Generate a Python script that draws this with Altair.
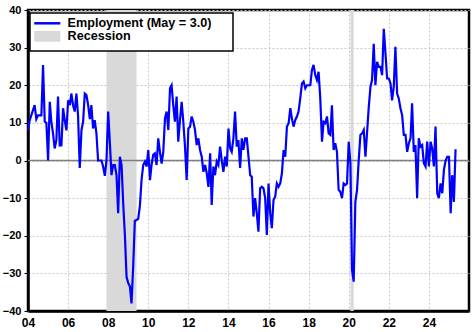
import altair as alt
import pandas as pd

# ---- data (monthly, Jan 2004 .. May 2025) ----
employment = [
    # 2004
    8, 10.7, 12, 13.4, 14.7, 11, 12, 12, 12, 25.4, 10.3, 10,
    # 2005
    0, 15.6, 10.3, 7.2, 3.2, 5.4, 17, 4, 4, 13.9, 10.7, 8,
    # 2006
    16, 14.7, 17.8, 14.7, 13, 17.8, 12, -2, 8, 10.3, 17.8, 17.4,
    # 2007
    14.7, 11, 14.7, 8.5, 10.7, 7.2, 0, 0, 0, -1.6, -4.1, 0,
    # 2008
    13, 4.6, -3.9, -1.2, -1.2, -3.9, -14, 1, -1.2, -11.5, -20, -31,
    # 2009
    -32.6, -33.5, -38, -28, -16, -15.8, -15.5, -12, -5, -1.2, -0.3, -1.6,
    # 2010
    2.8, -5.2, -1.2, 1.5, 1.9, -1.2, 5.9, 2.3, -0.8, 2.3, 11.2, 13,
    # 2011
    8.1, 19.2, 20, 14.7, 10.3, 17, 5, 10.7, 15.6, 10.3, 3.7, -5.2,
    # 2012
    8.5, 9, 11.7, 10.3, 8.1, 4.1, 5.9, 2.8, 1, -3, -1.2, -3.4,
    # 2013
    -7, 1.9, -11.8, -1.6, -3.9, -0.3, -1.2, 3.7, 0, -3, 1, -1.6,
    # 2014
    8.5, 3.2, 2.3, 5.9, 13, 3.7, 5.4, -2, 5.9, 2.8, 5.9, 5.9,
    # 2015
    1, -3.9, -4.3, -14.9, -10, -14, -18.9, -7.4, -7, -7.4, -10, -19.8,
    # 2016
    -6.1, -14, -18, -10.5, -9.6, -6.1, -7, -6.1, -3.4, 2.8, 1, 9,
    # 2017
    9.9, 13.9, 11.2, 9, 10.7, 11.7, 13, 16.5, 20.5, 21, 19.2, 20,
    # 2018
    20, 20, 24, 25.4, 22.7, 21.4, 23.6, 16.5, 5, 10.3, 9.9, 11.7,
    # 2019
    7.2, 6.8, 14.7, 2.8, 4.6, 2.3, -7.8, -8.3, -10, -6.1, -6.5, -6.1,
    # 2020
    5, -0.8, -29, -32.2, -11, -7.8, 0, 6.8, 7.2, 8.1, 1, 7.6,
    # 2021
    14.3, 19.6, 21.4, 31, 20, 26.2, 24.9, 24.9, 22.7, 35, 28.5, 21.8,
    # 2022
    21.8, 20.5, 16, 19.6, 30.2, 17.8, 16.5, 13.9, 12, 6.8, 6.8, 2.3,
    # 2023
    4.6, 5.9, 15.2, 2.3, 4.1, -10, 5.9, 3.7, 4.1, -0.7, -1.6, 5,
    # 2024
    -1.6, 5, 3.2, -1.6, 9, -8.7, -10, -6.1, -8.7, -2.5, 0, 1,
    # 2025
    1, -14, -3.9, -11, 3.0,
]
start_month = "2004-01-01"
series_label = "Employment (May = 3.0)"
recession_label = "Recession"
recession_start = ["2007-12-01", "2020-02-01"]
recession_end = ["2009-06-01", "2020-04-01"]
year_ticks = list(range(2004, 2025, 2))
y_ticks = [-40, -30, -20, -10, 0, 10, 20, 30, 40]

FONT = "Liberation Sans"
PAD = chr(160) * 5 + chr(0x200B)   # invisible filler widening the legend box

dates = pd.date_range(start_month, periods=len(employment), freq="MS")
df = pd.DataFrame({"date": dates.strftime("%Y-%m-%d"), "value": employment})
rec = pd.DataFrame({"start": recession_start, "end": recession_end,
                    "name": [recession_label] * len(recession_start)})
zero = pd.DataFrame({"zero": [0]})

x_scale = alt.Scale(domain=[alt.DateTime(year=2004, month=1, date=1),
                            alt.DateTime(year=2026, month=1, date=1)])
y_scale = alt.Scale(domain=[-40, 40], nice=False)

x_axis = alt.Axis(
    values=[alt.DateTime(year=y, month=1, date=1) for y in year_ticks],
    format="%y", labelFontSize=12, tickSize=0, labelPadding=6,
    labelFlush=False, grid=True, title=None,
)
y_axis = alt.Axis(values=y_ticks, format="d", labelFontSize=11, tickSize=4,
                  labelPadding=3, grid=True, title=None)

color_scale = alt.Scale(domain=[series_label, recession_label],
                        range=["#0000ff", "#d9d9d9"])

legend = alt.Legend(
    title=None, orient="none", legendX=2, legendY=3, direction="vertical",
    fillColor="white", strokeColor="black", padding=4,
    labelFont=FONT, labelFontSize=12.6, labelFontWeight="bold", labelColor="black",
    labelExpr="datum.label == 'Recession' ? datum.label : datum.label + '" + PAD + "'",
    labelLimit=260,
    labelOffset=14, rowPadding=-6, symbolOffset=7,
    symbolSize=81, symbolStrokeWidth=2.5,
    symbolType={"expr": "datum.value == 'Recession' ? 'M-2.9,-1.2H2.9V1.2H-2.9Z' : 'M-2.9,0H2.9'"},
    symbolStrokeColor={"expr": "datum.value == 'Recession' ? 'transparent' : '#0000ff'"},
)

shade = alt.Chart(rec).mark_rect().encode(
    x=alt.X("start:T", scale=x_scale, axis=x_axis),
    x2="end:T",
    color=alt.Color("name:N", scale=color_scale, legend=legend),
)

zero_line = alt.Chart(zero).mark_rule(color="#7f7f7f", strokeWidth=1.5).encode(
    y=alt.Y("zero:Q", scale=y_scale, axis=y_axis)
)

line = alt.Chart(df).mark_line(color="#0000ff", strokeWidth=2.2).encode(
    x=alt.X("date:T", scale=x_scale, axis=x_axis),
    y=alt.Y("value:Q", scale=y_scale, axis=y_axis),
)

chart = alt.layer(shade, zero_line, line).properties(
    width=441, height=301,
    padding={"left": 28, "top": 10, "right": 7, "bottom": 21},
    autosize="none",
).configure_view(
    stroke="black", strokeWidth=2.5
).configure_axis(
    labelFont=FONT, labelFontWeight="bold", labelColor="black",
    domainColor="black", domainWidth=2.5, tickColor="black",
    gridColor="#c8c8c8", gridDash=[2, 2], gridWidth=1,
).configure_legend(
    strokeWidth=1.5
)

chart.save("out.html", embed_options={"renderer": "svg", "actions": False})
